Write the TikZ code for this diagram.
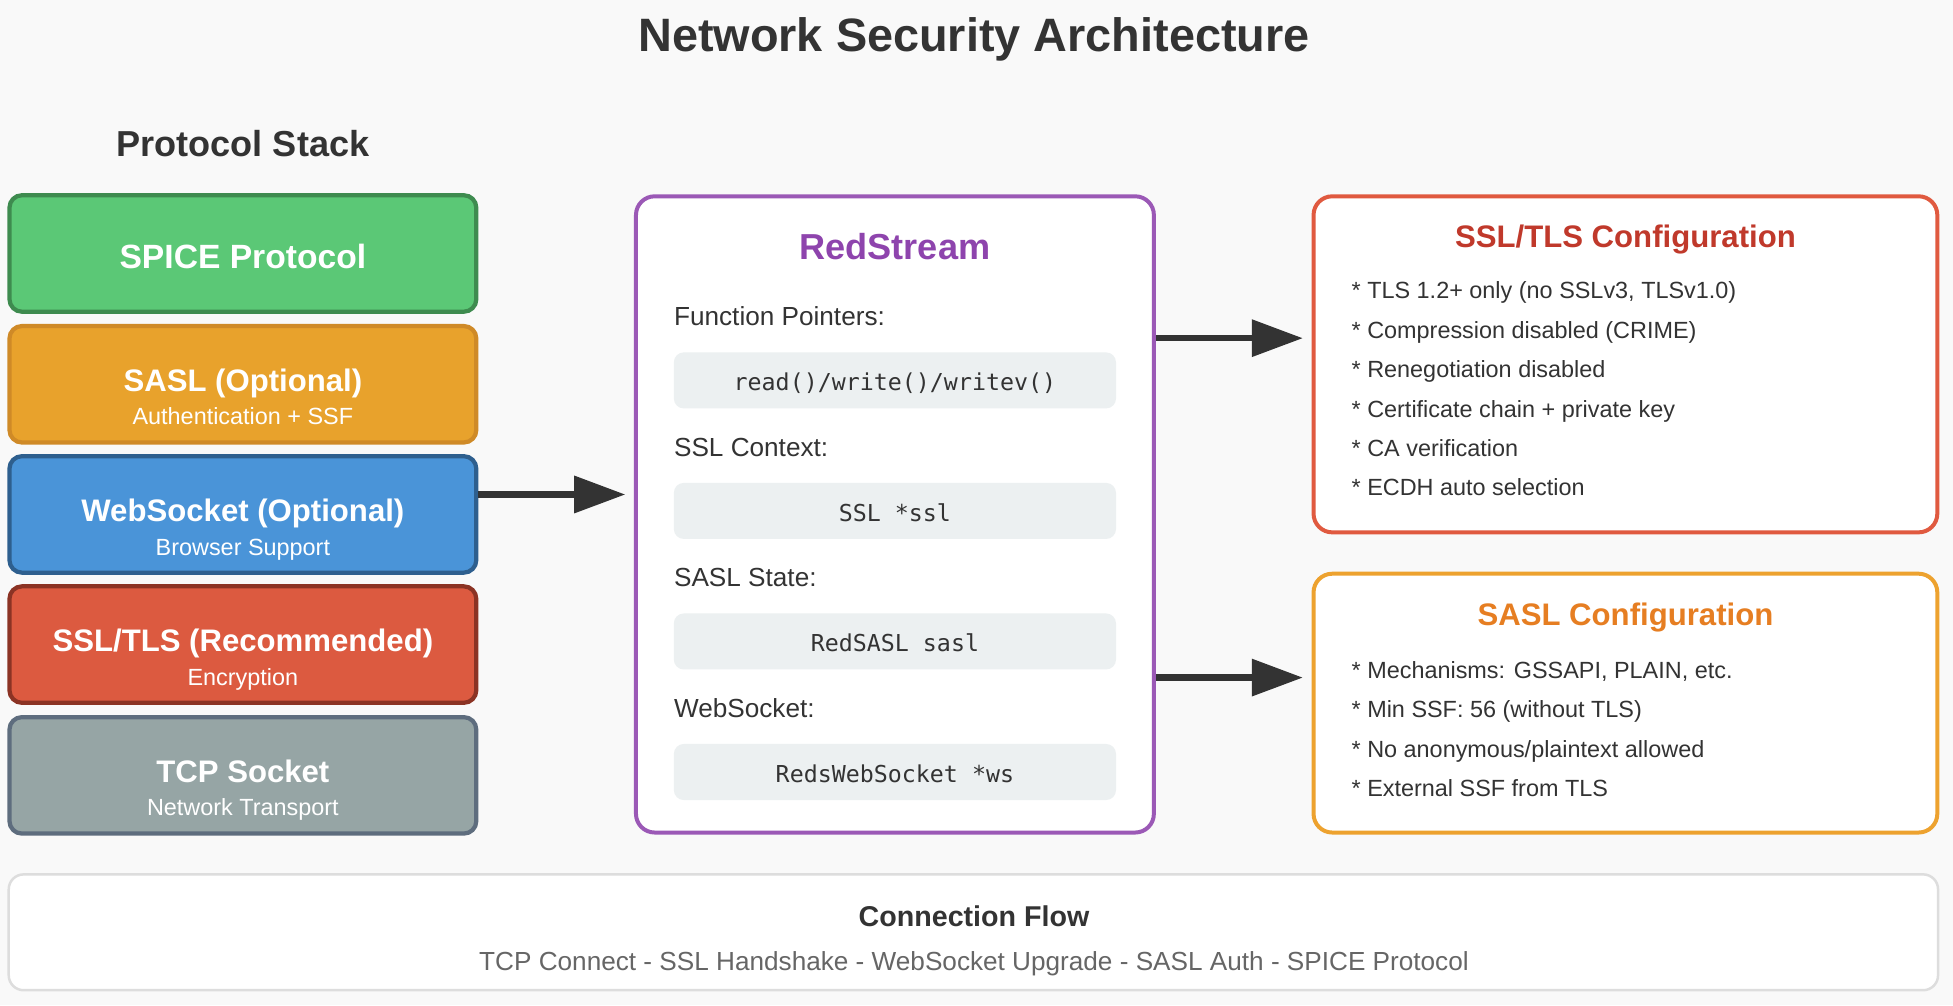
\documentclass[tikz,border=0pt]{standalone}
\usepackage{fontspec}
\setmainfont{Liberation Sans}
\setmonofont{DejaVu Sans Mono}
\usetikzlibrary{arrows.meta}
\newcommand\myfs[1]{\fontsize{#1}{#1}\selectfont}
\definecolor{bgc}{HTML}{F9F9F9}
\definecolor{dark}{HTML}{333333}
\definecolor{spicefill}{HTML}{5BC876}
\definecolor{spicedraw}{HTML}{3E8B4F}
\definecolor{saslfill}{HTML}{E8A22C}
\definecolor{sasldraw}{HTML}{CF8A27}
\definecolor{wsfill}{HTML}{4A94D8}
\definecolor{wsdraw}{HTML}{2E5F8E}
\definecolor{sslfill}{HTML}{DC5A40}
\definecolor{ssldraw}{HTML}{8B3324}
\definecolor{tcpfill}{HTML}{96A5A5}
\definecolor{tcpdraw}{HTML}{5E6D7E}
\definecolor{rspurple}{HTML}{9B59B6}
\definecolor{rstitle}{HTML}{8E44AD}
\definecolor{codefill}{HTML}{ECF0F1}
\definecolor{sslcfgdraw}{HTML}{E05A40}
\definecolor{sslcfgtitle}{HTML}{C0392B}
\definecolor{saslcfgdraw}{HTML}{EDA22F}
\definecolor{saslcfgtitle}{HTML}{E67E22}
\definecolor{flowgrey}{HTML}{666666}
\definecolor{flowborder}{HTML}{DDDDDD}
\begin{document}
\begin{tikzpicture}[x=1pt,y=-1pt,
  layer/.style={rounded corners=10pt, line width=3.4pt, minimum width=374.8pt, minimum height=93.5pt, inner sep=0pt},
  ltitle/.style={anchor=base, text=white, font=\myfs{25}\bfseries, inner sep=0pt},
  lsub/.style={anchor=base, text=white, font=\myfs{18.8}, inner sep=0pt},
  panel/.style={rounded corners=15pt, line width=3.2pt, fill=white, inner sep=0pt},
  codebox/.style={rounded corners=8pt, fill=codefill, minimum width=355pt, minimum height=45pt, inner sep=0pt},
  codetext/.style={anchor=base, text=dark, font=\myfs{18.7}\ttfamily, inner sep=0pt},
  fieldlabel/.style={anchor=base west, text=dark, font=\myfs{21}, inner sep=0pt},
  item/.style={anchor=base west, text=dark, font=\myfs{18.8}, inner sep=0pt},
  arr/.style={draw=dark, line width=5pt, -{Triangle[length=41pt,width=29pt]}}
]
\useasboundingbox (0,0) rectangle (1568,807);
\fill[bgc] (0,0) rectangle (1568,807);

% title
\node[anchor=base, text=dark, font=\myfs{37.6}\bfseries, inner sep=0pt] (title) at (782,41.5) {Network Security Architecture};
\node[anchor=base, text=dark, font=\myfs{29}\bfseries, inner sep=0pt] (stackhead) at (195,125.4) {Protocol Stack};

% protocol stack
\node[layer, fill=spicefill, draw=spicedraw] (spice) at (195,203.5) {};
\node[layer, fill=saslfill, draw=sasldraw] (sasl) at (195,308.5) {};
\node[layer, fill=wsfill, draw=wsdraw] (ws) at (195,413) {};
\node[layer, fill=sslfill, draw=ssldraw] (ssl) at (195,517.5) {};
\node[layer, fill=tcpfill, draw=tcpdraw] (tcp) at (195,622.5) {};

\node[ltitle, font=\myfs{27}\bfseries] (spicet) at (195,215.7) {SPICE Protocol};
\node[ltitle] (saslt) at (195,314.2) {SASL (Optional)};
\node[lsub] (sasls) at (195,340.7) {Authentication + SSF};
\node[ltitle] (wst) at (195,418.7) {WebSocket (Optional)};
\node[lsub] (wss) at (195,445.7) {Browser Support};
\node[ltitle] (sslt) at (195,523.2) {SSL/TLS (Recommended)};
\node[lsub] (ssls) at (195,550.7) {Encryption};
\node[ltitle] (tcpt) at (195,628.2) {TCP Socket};
\node[lsub] (tcps) at (195,654.7) {Network Transport};

% RedStream
\node[panel, draw=rspurple, minimum width=415.8pt, minimum height=510.8pt] (rs) at (718.5,413) {};
\node[anchor=base, text=rstitle, font=\myfs{29}\bfseries, inner sep=0pt] (rst) at (718.5,208.6) {RedStream};

\node[fieldlabel] (l1) at (541,261.5) {Function Pointers:};
\node[codebox] (c1) at (718.5,305.4) {};
\node[codetext] (c1t) at (718.5,313.5) {read()/write()/writev()};
\node[fieldlabel] (l2) at (541,366.4) {SSL Context:};
\node[codebox] (c2) at (718.5,410.2) {};
\node[codetext] (c2t) at (718.5,418.3) {SSL *ssl};
\node[fieldlabel] (l3) at (541,471.2) {SASL State:};
\node[codebox] (c3) at (718.5,515) {};
\node[codetext] (c3t) at (718.5,523.1) {RedSASL sasl};
\node[fieldlabel] (l4) at (541,576) {WebSocket:};
\node[codebox] (c4) at (718.5,619.8) {};
\node[codetext] (c4t) at (718.5,627.9) {RedsWebSocket *ws};

% SSL/TLS configuration
\node[panel, draw=sslcfgdraw, minimum width=500.8pt, minimum height=269.8pt] (sslcfg) at (1305,292.5) {};
\node[anchor=base, text=sslcfgtitle, font=\myfs{25}\bfseries, inner sep=0pt] (sslcfgt) at (1305,199) {SSL/TLS Configuration};
\node[item] (s1) at (1085,240) {* TLS 1.2+ only (no SSLv3, TLSv1.0)};
\node[item] (s2) at (1085,271.6) {* Compression disabled (CRIME)};
\node[item] (s3) at (1085,303.2) {* Renegotiation disabled};
\node[item] (s4) at (1085,334.8) {* Certificate chain + private key};
\node[item] (s5) at (1085,366.2) {* CA verification};
\node[item] (s6) at (1085,397.6) {* ECDH auto selection};

% SASL configuration
\node[panel, draw=saslcfgdraw, minimum width=500.8pt, minimum height=207.8pt] (saslcfg) at (1305,564.5) {};
\node[anchor=base, text=saslcfgtitle, font=\myfs{25}\bfseries, inner sep=0pt] (saslcfgt) at (1305,502) {SASL Configuration};
\node[item] (a1) at (1085,544.6) {* Mechanisms: GSSAPI, PLAIN, etc.};
\node[item] (a2) at (1085,576.2) {* Min SSF: 56 (without TLS)};
\node[item] (a3) at (1085,607.8) {* No anonymous/plaintext allowed};
\node[item] (a4) at (1085,639.4) {* External SSF from TLS};

% arrows
\coordinate (yl) at (0,397);
\coordinate (y1) at (0,271.5);
\coordinate (y2) at (0,544);
\draw[arr, shorten >=7pt] (ws.east |- yl) -- (rs.west |- yl);
\draw[arr, shorten >=7pt] (rs.east |- y1) -- (sslcfg.west |- y1);
\draw[arr, shorten >=7pt] (rs.east |- y2) -- (saslcfg.west |- y2);

% connection flow
\node[rounded corners=12pt, line width=2pt, draw=flowborder, fill=white, minimum width=1549pt, minimum height=93pt, inner sep=0pt] (flow) at (781.5,748.5) {};
\node[anchor=base, text=dark, font=\myfs{23}\bfseries, inner sep=0pt] (flowt) at (782,744.2) {Connection Flow};
\node[anchor=base, text=flowgrey, font=\myfs{21}, inner sep=0pt] (flows) at (782,779) {TCP Connect - SSL Handshake - WebSocket Upgrade - SASL Auth - SPICE Protocol};
\end{tikzpicture}
\end{document}
